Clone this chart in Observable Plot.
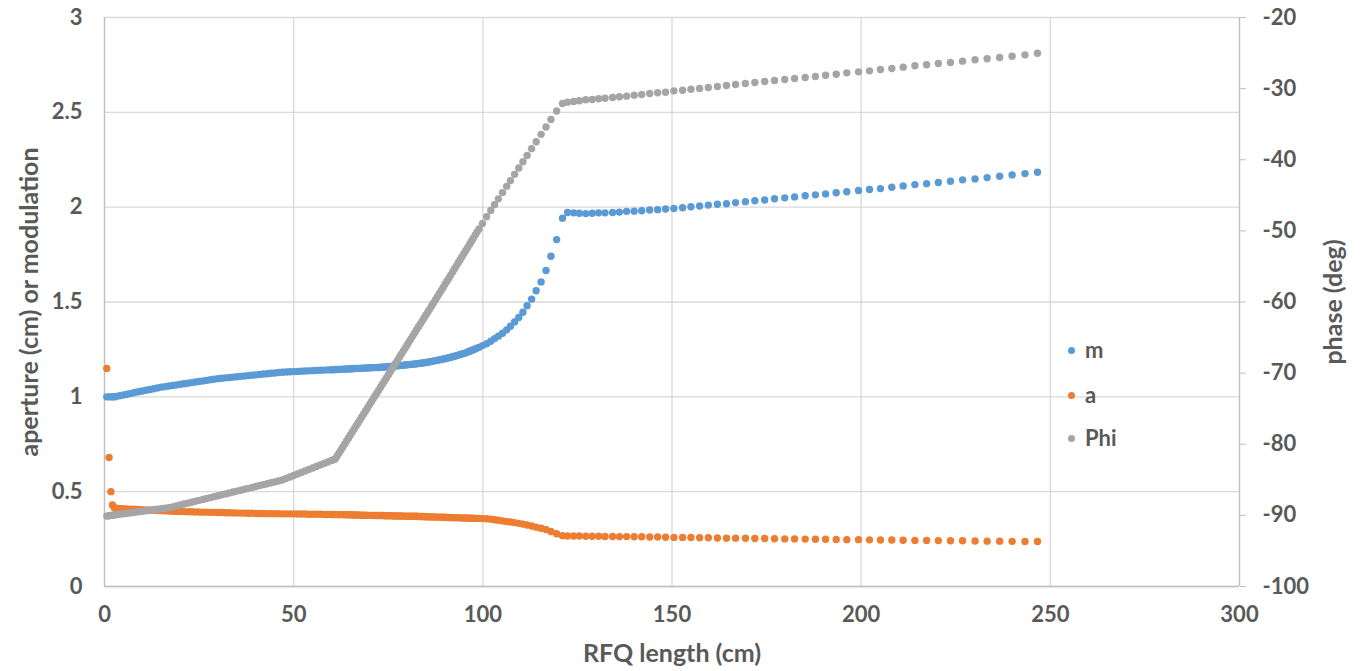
<!DOCTYPE html>
<html>
<head>
<meta charset="utf-8">
<script src="https://cdn.jsdelivr.net/npm/d3@7"></script>
<script src="https://cdn.jsdelivr.net/npm/@observablehq/plot@0.6"></script>
<style>
  body { margin: 0; background: #fff; }
  #wrap { position: relative; width: 1363px; height: 671px; }
  .lg { position: absolute; left: 1068px; height: 24px; line-height: 24px; font-family: Lato, "Open Sans", sans-serif; font-weight: bold; font-size: 22px; color: #595959; display: flex; align-items: center; }
  .lg i { display: inline-block; width: 7px; height: 7px; border-radius: 50%; margin-right: 10px; }
</style>
</head>
<body>
<div id="wrap"></div>
<script>
// ---- data ----
const positionCm = [
  0.6, 1.2, 1.7, 2.1, 2.6, 3, 4, 5, 6, 7,
  8, 9, 10, 11, 12, 13, 14, 15, 16, 17,
  18, 19, 20, 21, 22, 23, 24, 25, 26, 27,
  28, 29, 30, 31, 32, 33, 34, 35, 36, 37,
  38, 39, 40, 41, 42, 43, 44, 45, 46, 47,
  48, 49, 50, 51, 52, 53, 54, 55, 56, 57,
  58, 59, 60,
  60.5, 61, 61.5, 62, 62.5, 63, 63.5, 64, 64.5, 65,
  65.5, 66, 66.5, 67, 67.5, 68, 68.5, 69, 69.5, 70,
  70.5, 71, 71.5, 72, 72.5, 73, 73.5, 74, 74.5, 75,
  75.5, 76, 76.5, 77, 77.5, 78, 78.5, 79, 79.5, 80,
  80.5, 81, 81.5, 82, 82.5, 83, 83.5, 84, 84.5, 85,
  85.5, 86, 86.5, 87, 87.5, 88, 88.5, 89, 89.5, 90,
  90.5, 91, 91.5, 92, 92.5, 93, 93.5, 94, 94.5, 95,
  95.5, 96, 96.5, 97, 97.5, 98, 98.5, 99,
  99.9, 101.0, 102.1, 103.1, 104.1, 105.2, 106.3, 107.3, 108.4, 109.5,
  110.6, 111.7, 112.9, 114.1, 115.4, 116.7, 118.0, 119.5,
  121.05, 122.4, 124.0, 125.5, 127.2, 128.9, 130.6, 132.3, 134.3, 136.1,
  138.0, 140.0, 142.0, 144.1, 146.2, 148.3, 150.5, 152.8, 155.0, 157.3,
  159.6, 162.0, 164.4, 166.8, 169.4, 171.9, 174.5, 177.1, 179.8, 182.4,
  185.2, 187.9, 190.6, 193.4, 196.2, 199.3, 202.2, 205.1, 208.1, 211.1,
  214.2, 217.3, 220.4, 223.6, 226.8, 230.1, 233.3, 236.6, 239.9, 243.3,
  246.6
];
const modulation = [
  1.0, 1.0, 1.0, 1.0, 1.0, 1.002, 1.006, 1.01, 1.014, 1.018,
  1.023, 1.027, 1.031, 1.035, 1.039, 1.043, 1.047, 1.051, 1.054, 1.057,
  1.060, 1.063, 1.066, 1.069, 1.072, 1.075, 1.078, 1.081, 1.084, 1.087,
  1.090, 1.093, 1.096, 1.098, 1.100, 1.102, 1.104, 1.106, 1.108, 1.110,
  1.112, 1.114, 1.116, 1.118, 1.120, 1.122, 1.124, 1.126, 1.128, 1.130,
  1.131, 1.132, 1.133, 1.134, 1.135, 1.136, 1.137, 1.138, 1.139, 1.140,
  1.141, 1.142, 1.143,
  1.143, 1.144, 1.144, 1.145, 1.145, 1.146, 1.146, 1.147, 1.147, 1.148,
  1.148, 1.149, 1.149, 1.150, 1.150, 1.151, 1.151, 1.152, 1.152, 1.153,
  1.153, 1.154, 1.154, 1.155, 1.155, 1.156, 1.156, 1.157, 1.158, 1.159,
  1.160, 1.161, 1.162, 1.163, 1.164, 1.165, 1.166, 1.167, 1.168, 1.169,
  1.170, 1.171, 1.172, 1.173, 1.174, 1.176, 1.177, 1.178, 1.180, 1.181,
  1.183, 1.185, 1.187, 1.189, 1.191, 1.193, 1.195, 1.197, 1.199, 1.201,
  1.204, 1.206, 1.209, 1.211, 1.214, 1.217, 1.220, 1.223, 1.226, 1.229,
  1.232, 1.236, 1.240, 1.244, 1.248, 1.252, 1.257, 1.261,
  1.270, 1.280, 1.293, 1.307, 1.320, 1.335, 1.353, 1.372, 1.395, 1.418,
  1.446, 1.480, 1.515, 1.559, 1.606, 1.666, 1.741, 1.829,
  1.942, 1.972, 1.970, 1.968, 1.966, 1.968, 1.970, 1.970, 1.972, 1.974,
  1.978, 1.979, 1.981, 1.985, 1.987, 1.990, 1.993, 1.997, 2.002, 2.006,
  2.011, 2.015, 2.018, 2.024, 2.029, 2.034, 2.038, 2.044, 2.049, 2.054,
  2.060, 2.065, 2.070, 2.076, 2.081, 2.088, 2.093, 2.098, 2.105, 2.112,
  2.119, 2.124, 2.130, 2.137, 2.144, 2.149, 2.156, 2.163, 2.170, 2.177,
  2.184
];
const aperture = [
  1.15, 0.68, 0.50, 0.43, 0.415, 0.413, 0.411, 0.410, 0.409, 0.408,
  0.407, 0.406, 0.405, 0.404, 0.403, 0.402, 0.401, 0.400, 0.399, 0.398,
  0.397, 0.396, 0.396, 0.395, 0.394, 0.394, 0.393, 0.393, 0.392, 0.392,
  0.391, 0.391, 0.390, 0.390, 0.389, 0.389, 0.388, 0.388, 0.387, 0.387,
  0.386, 0.386, 0.385, 0.385, 0.385, 0.384, 0.384, 0.384, 0.384, 0.383,
  0.383, 0.383, 0.383, 0.382, 0.382, 0.382, 0.381, 0.381, 0.381, 0.381,
  0.380, 0.380, 0.380,
  0.380, 0.380, 0.379, 0.379, 0.379, 0.379, 0.378, 0.378, 0.378, 0.378,
  0.377, 0.377, 0.377, 0.377, 0.376, 0.376, 0.376, 0.376, 0.375, 0.375,
  0.375, 0.375, 0.374, 0.374, 0.374, 0.374, 0.374, 0.373, 0.373, 0.373,
  0.373, 0.373, 0.372, 0.372, 0.372, 0.372, 0.372, 0.371, 0.371, 0.371,
  0.371, 0.370, 0.370, 0.370, 0.370, 0.369, 0.369, 0.369, 0.368, 0.368,
  0.368, 0.367, 0.367, 0.367, 0.366, 0.366, 0.366, 0.365, 0.365, 0.365,
  0.364, 0.364, 0.364, 0.363, 0.363, 0.363, 0.362, 0.362, 0.362, 0.361,
  0.361, 0.361, 0.360, 0.360, 0.360, 0.359, 0.359, 0.359,
  0.358, 0.357, 0.355, 0.352, 0.349, 0.346, 0.343, 0.340, 0.337, 0.333,
  0.329, 0.324, 0.319, 0.313, 0.307, 0.300, 0.290, 0.278,
  0.268, 0.266, 0.266, 0.266, 0.265, 0.265, 0.265, 0.264, 0.264, 0.263,
  0.263, 0.262, 0.262, 0.261, 0.261, 0.260, 0.259, 0.259, 0.258, 0.257,
  0.257, 0.256, 0.255, 0.255, 0.254, 0.253, 0.253, 0.252, 0.251, 0.251,
  0.250, 0.249, 0.249, 0.248, 0.247, 0.247, 0.246, 0.245, 0.245, 0.244,
  0.243, 0.243, 0.242, 0.241, 0.241, 0.240, 0.239, 0.239, 0.238, 0.237,
  0.237
];
const phase = [
  -90.10, -90.05, -90.00, -89.98, -89.95, -89.92, -89.85, -89.78, -89.71, -89.64,
  -89.57, -89.50, -89.43, -89.36, -89.29, -89.21, -89.14, -89.07, -89.00, -88.92,
  -88.80, -88.67, -88.54, -88.41, -88.28, -88.15, -88.02, -87.89, -87.76, -87.63,
  -87.50, -87.37, -87.24, -87.11, -86.98, -86.85, -86.72, -86.59, -86.46, -86.33,
  -86.20, -86.07, -85.94, -85.81, -85.68, -85.55, -85.42, -85.29, -85.16, -85.02,
  -84.81, -84.60, -84.39, -84.18, -83.97, -83.76, -83.55, -83.34, -83.13, -82.92,
  -82.71, -82.50, -82.29,
  -82.19, -82.08, -81.66, -81.24, -80.81, -80.39, -79.97, -79.55, -79.12, -78.70,
  -78.28, -77.86, -77.43, -77.01, -76.59, -76.17, -75.74, -75.32, -74.90, -74.48,
  -74.05, -73.63, -73.21, -72.79, -72.36, -71.94, -71.52, -71.10, -70.67, -70.25,
  -69.83, -69.41, -68.98, -68.56, -68.14, -67.72, -67.29, -66.87, -66.45, -66.03,
  -65.60, -65.18, -64.76, -64.34, -63.91, -63.49, -63.07, -62.65, -62.22, -61.80,
  -61.38, -60.96, -60.53, -60.11, -59.68, -59.24, -58.81, -58.38, -57.95, -57.51,
  -57.08, -56.65, -56.22, -55.78, -55.35, -54.92, -54.49, -54.05, -53.62, -53.19,
  -52.76, -52.32, -51.89, -51.46, -51.03, -50.59, -50.16, -49.73,
  -48.95, -48.02, -47.12, -46.31, -45.50, -44.62, -43.74, -42.93, -42.05, -41.17,
  -40.29, -39.40, -38.44, -37.47, -36.43, -35.39, -34.35, -33.15,
  -32.10, -31.90, -31.80, -31.70, -31.57, -31.53, -31.43, -31.35, -31.25, -31.15,
  -31.06, -30.92, -30.82, -30.68, -30.59, -30.50, -30.31, -30.22, -30.08, -29.98,
  -29.84, -29.70, -29.56, -29.42, -29.28, -29.14, -29.00, -28.86, -28.72, -28.58,
  -28.44, -28.30, -28.11, -27.97, -27.78, -27.64, -27.50, -27.31, -27.17, -26.98,
  -26.79, -26.65, -26.47, -26.33, -26.14, -25.95, -25.81, -25.63, -25.44, -25.25,
  -25.02
];
const xTicks = [0, 50, 100, 150, 200, 250, 300];
const leftTicks = [0, 0.5, 1, 1.5, 2, 2.5, 3];
const phaseTicks = [-100, -90, -80, -70, -60, -50, -40, -30, -20];
const seriesNames = ["m", "a", "Phi"];
const seriesColors = ["#5B9BD5", "#ED7D31", "#A5A5A5"];
const titles = { x: "RFQ length (cm)", yLeft: "aperture (cm) or modulation", yRight: "phase (deg)" };

// ---- build ----
const leftDomain = [0, 3];
const phaseDomain = [-100, -20];
const phaseToLeft = p => leftDomain[0] + (p - phaseDomain[0]) / (phaseDomain[1] - phaseDomain[0]) * (leftDomain[1] - leftDomain[0]);

const rows = positionCm.map((x, i) => ({ x, m: modulation[i], a: aperture[i], phi: phase[i] }));
const textColor = "#595959";
const axisColor = "#bfbfbf";
const gridColor = "#d9d9d9";

const chart = Plot.plot({
  width: 1363,
  height: 671,
  marginLeft: 104,
  marginRight: 124,
  marginTop: 17,
  marginBottom: 85,
  style: { fontFamily: "Lato, 'Open Sans', sans-serif", fontSize: "22px", fontWeight: "bold", color: textColor, background: "#fff" },
  x: { domain: [0, 300] },
  y: { domain: leftDomain },
  marks: [
    Plot.gridY(leftTicks, { stroke: gridColor, strokeOpacity: 1, strokeWidth: 1.3 }),
    Plot.gridX(xTicks, { stroke: gridColor, strokeOpacity: 1, strokeWidth: 1.3 }),
    Plot.ruleY([0], { stroke: axisColor, strokeWidth: 1.3 }),
    Plot.ruleX([0], { stroke: axisColor, strokeWidth: 1.3 }),
    Plot.ruleX([300], { stroke: axisColor, strokeWidth: 1.3 }),
    Plot.axisY(leftTicks, { anchor: "left", tickSize: 0, tickPadding: 22, label: null, fill: textColor, fontSize: 22, tickFormat: d => String(d) }),
    Plot.axisX(xTicks, { anchor: "bottom", tickSize: 0, tickPadding: 20, label: null, fill: textColor, fontSize: 22, tickFormat: d => String(d) }),
    Plot.axisY(phaseTicks.map(phaseToLeft), { anchor: "right", tickSize: 6, tickPadding: 17, label: null, stroke: axisColor, fill: textColor, fontSize: 22, tickFormat: (d, i) => String(phaseTicks[i]) }),
    Plot.dot(rows, { x: "x", y: "m", r: 3.7, fill: seriesColors[0] }),
    Plot.dot(rows, { x: "x", y: "a", r: 3.7, fill: seriesColors[1] }),
    Plot.dot(rows, { x: "x", y: d => phaseToLeft(d.phi), r: 3.7, fill: seriesColors[2] }),
    Plot.text([titles.yLeft], { frameAnchor: "left", textAnchor: "middle", dx: -75, rotate: -90, fill: textColor, fontSize: 25, fontWeight: "bold" }),
    Plot.text([titles.yRight], { frameAnchor: "right", textAnchor: "middle", dx: 94, rotate: -90, fill: textColor, fontSize: 25, fontWeight: "bold" }),
    Plot.text([titles.x], { frameAnchor: "bottom", textAnchor: "middle", dy: 75, fill: textColor, fontSize: 25, fontWeight: "bold" })
  ]
});

const wrap = document.getElementById("wrap");
wrap.appendChild(chart);

const legendTops = [338, 383, 426];
seriesNames.forEach((name, i) => {
  const el = document.createElement("div");
  el.className = "lg";
  el.style.top = legendTops[i] + "px";
  const sw = document.createElement("i");
  sw.style.background = seriesColors[i];
  el.appendChild(sw);
  el.appendChild(document.createTextNode(name));
  wrap.appendChild(el);
});
</script>
</body>
</html>
